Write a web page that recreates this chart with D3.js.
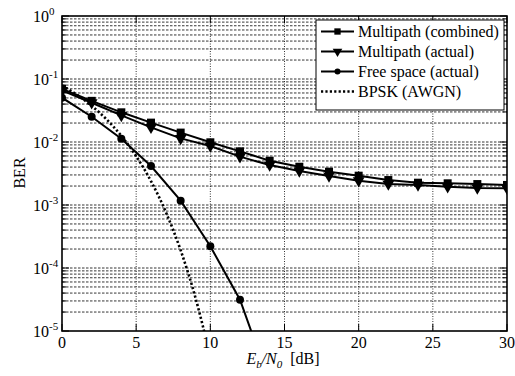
<!DOCTYPE html>
<html><head><meta charset="utf-8">
<script src="https://cdn.jsdelivr.net/npm/d3@7"></script>
</head>
<body style="margin:0;background:#fff"><svg id="c" width="515" height="376"></svg>
<script>
const ebn0 = [0,2,4,6,8,10,12,14,16,18,20,22,24,26,28,30];
const multipathCombined = [0.0694,0.0450,0.0296,0.0203,0.0141,0.00989,0.00711,0.00505,0.00405,0.00338,0.00292,0.00249,0.00226,0.00221,0.00215,0.00208];
const multipathActual = [0.0660,0.0420,0.0265,0.0171,0.0114,0.00865,0.00585,0.00431,0.00347,0.00289,0.00243,0.00215,0.00208,0.00195,0.00186,0.00184];
const freeSpaceX = [0,2,4,6,8,10,12,14];
const freeSpace = [0.0505,0.0252,0.0113,0.00416,0.00117,0.000221,0.0000314,0.0000015];
const bpskX = [0,1,2,3,4,5,6,7,8,9,10];
const bpsk = [0.0786,0.0563,0.0375,0.0229,0.0125,0.00595,0.00239,0.000773,0.000191,0.0000336,0.00000387];
const xTicks = [0,5,10,15,20,25,30];
const yExps = [0,-1,-2,-3,-4,-5];
const legendLabels = ["Multipath (combined)","Multipath (actual)","Free space (actual)","BPSK (AWGN)"];

const FONT = "'Liberation Serif'";
const svg = d3.select("#c");
const L=62,T=16,R=507,B=331;
const x = d3.scaleLinear().domain([0,30]).range([L,R]);
const y = d3.scaleLog().domain([1e-5,1]).range([B,T]);
function txt(sel){return sel.append("text").style("font-family",FONT).attr("fill","#000");}

svg.append("defs").append("clipPath").attr("id","pc").append("rect")
  .attr("x",L).attr("y",T).attr("width",R-L).attr("height",B-T);

const hvals=[];
for(let e=-5;e<0;e++){for(let m=1;m<=9;m++){hvals.push(m*Math.pow(10,e));}}
hvals.push(1);
const g = svg.append("g");
g.selectAll("line.h").data(hvals.filter(v=>v>1e-5&&v<1)).enter().append("line")
  .attr("x1",L).attr("x2",R).attr("y1",d=>y(d)).attr("y2",d=>y(d))
  .attr("stroke","#000").attr("stroke-width",0.8).attr("stroke-dasharray","2.5,1.5");
g.selectAll("line.v").data(xTicks.filter(v=>v>0&&v<30)).enter().append("line")
  .attr("y1",T).attr("y2",B).attr("x1",d=>x(d)).attr("x2",d=>x(d))
  .attr("stroke","#000").attr("stroke-width",0.8).attr("stroke-dasharray","1,1.5");

const tk = svg.append("g").attr("stroke","#000").attr("stroke-width",1);
hvals.forEach(v=>{
  const major = Math.abs(Math.log10(v)-Math.round(Math.log10(v)))<1e-9;
  const len = major?7:4;
  tk.append("line").attr("x1",L).attr("x2",L+len).attr("y1",y(v)).attr("y2",y(v));
  tk.append("line").attr("x1",R).attr("x2",R-len).attr("y1",y(v)).attr("y2",y(v));
});
xTicks.forEach(v=>{
  tk.append("line").attr("x1",x(v)).attr("x2",x(v)).attr("y1",B).attr("y2",B-7);
  tk.append("line").attr("x1",x(v)).attr("x2",x(v)).attr("y1",T).attr("y2",T+7);
});

const pl = svg.append("g").attr("clip-path","url(#pc)");
const line = d3.line().x(d=>x(d[0])).y(d=>y(d[1]));
function series(xs,ys){return xs.map((v,i)=>[v,ys[i]]);}
const sMC = series(ebn0,multipathCombined), sMA=series(ebn0,multipathActual), sFS=series(freeSpaceX,freeSpace), sB=series(bpskX,bpsk);
pl.append("path").datum(sB).attr("d",d3.line().x(d=>x(d[0])).y(d=>y(d[1])).curve(d3.curveMonotoneX))
  .attr("fill","none").attr("stroke","#000").attr("stroke-width",2.6).attr("stroke-dasharray","2.2,2.2");
[sMC,sMA,sFS].forEach(s=>{
  pl.append("path").datum(s).attr("d",line).attr("fill","none").attr("stroke","#000").attr("stroke-width",2);
});
const sq = d3.symbol().type(d3.symbolSquare).size(64);
const tri = d3.symbol().type(d3.symbolTriangle).size(60);
pl.selectAll("path.sq").data(sMC).enter().append("path").attr("d",sq)
  .attr("transform",d=>`translate(${x(d[0])},${y(d[1])})`);
pl.selectAll("path.tr").data(sMA).enter().append("path").attr("d",tri)
  .attr("transform",d=>`translate(${x(d[0])},${y(d[1])}) rotate(180)`);
pl.selectAll("circle.fs").data(sFS).enter().append("circle")
  .attr("cx",d=>x(d[0])).attr("cy",d=>y(d[1])).attr("r",4);

svg.append("rect").attr("x",L).attr("y",T).attr("width",R-L).attr("height",B-T)
  .attr("fill","none").attr("stroke","#000").attr("stroke-width",1.6);

xTicks.forEach(v=>{
  txt(svg).attr("x",x(v)).attr("y",348).attr("text-anchor","middle")
    .attr("font-size",16).text(v);
});
yExps.forEach(e=>{
  const t = txt(svg).attr("x",33).attr("y",y(Math.pow(10,e))+6).attr("font-size",16);
  t.append("tspan").text("10");
  t.append("tspan").attr("font-size",11).attr("dy",-7).text(e===0?"0":String(e));
});

txt(svg).attr("transform","translate(25,173) rotate(-90)").attr("text-anchor","middle")
  .attr("font-size",16).text("BER");
const xl = txt(svg).attr("x",283).attr("y",364).attr("text-anchor","middle").attr("font-size",16);
xl.append("tspan").attr("font-style","italic").text("E");
xl.append("tspan").attr("font-style","italic").attr("font-size",11).attr("dy",4).text("b");
xl.append("tspan").attr("font-style","italic").attr("dy",-4).text("/N");
xl.append("tspan").attr("font-style","italic").attr("font-size",11).attr("dy",4).text("0");
xl.append("tspan").attr("dy",-4).text("\u00a0\u00a0[dB]");

const lg = svg.append("g");
lg.append("rect").attr("x",316).attr("y",20).attr("width",188).attr("height",90)
  .attr("fill","#fff").attr("stroke","#000").attr("stroke-width",1);
const rowsY=[31.5,51.5,71.5,91.5];
legendLabels.forEach((lab,i)=>{
  const yy=rowsY[i];
  const ln = lg.append("line").attr("x1",321).attr("x2",354).attr("y1",yy).attr("y2",yy)
    .attr("stroke","#000").attr("stroke-width",i===3?2.6:2);
  if(i===3) ln.attr("stroke-dasharray","2.2,2.2");
  if(i===0) lg.append("path").attr("d",d3.symbol().type(d3.symbolSquare).size(40)).attr("transform",`translate(337.5,${yy})`);
  if(i===1) lg.append("path").attr("d",d3.symbol().type(d3.symbolTriangle).size(40)).attr("transform",`translate(337.5,${yy}) rotate(180)`);
  if(i===2) lg.append("circle").attr("cx",337.5).attr("cy",yy).attr("r",3);
  txt(lg).attr("x",358).attr("y",yy+5.5).attr("font-size",16).text(lab);
});
</script></body></html>
